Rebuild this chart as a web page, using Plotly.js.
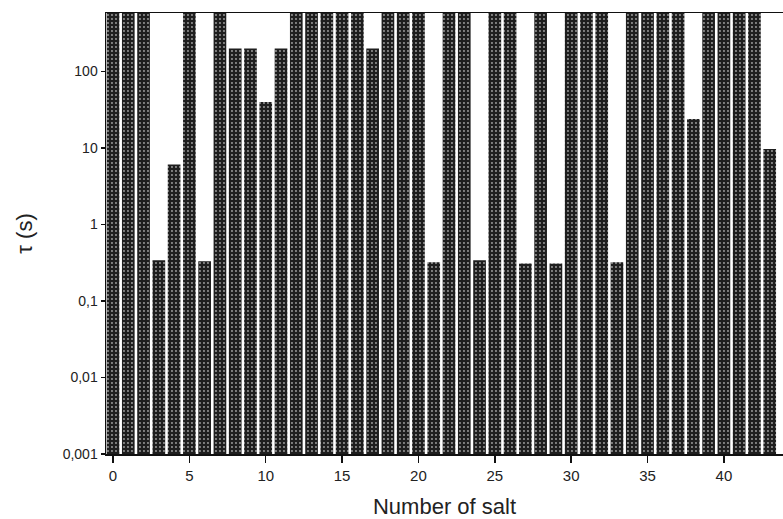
<!DOCTYPE html>
<html>
<head>
<meta charset="utf-8">
<script src="https://cdn.plot.ly/plotly-3.0.1.min.js"></script>
<style>
html,body{margin:0;padding:0;background:#fff;overflow:hidden;}
#chart{width:783px;height:519px;}
</style>
</head>
<body>
<div id="chart"></div>
<script>
// Salt number (x) and crystallization time tau in s (y); bars that reach the top are off-scale
var saltNumber = [0,1,2,3,4,5,6,7,8,9,10,11,12,13,14,15,16,17,18,19,20,21,22,23,24,25,26,27,28,29,30,31,32,33,34,35,36,37,38,39,40,41,42,43];
var tauValues = [1000,1000,1000,0.34,6.1,1000,0.33,1000,200,200,40,200,1000,1000,1000,1000,1000,200,1000,1000,1000,0.32,1000,1000,0.34,1000,1000,0.31,1000,0.31,1000,1000,1000,0.32,1000,1000,1000,1000,24,1000,1000,1000,1000,9.7];
var xTickVals = [0,5,10,15,20,25,30,35,40];
var xTickText = ["0","5","10","15","20","25","30","35","40"];
var yTickVals = [0.001,0.01,0.1,1,10,100];
var yTickText = ["0,001","0,01","0,1","1","10","100"];

var trace = {
  type: 'bar',
  x: saltNumber,
  y: tauValues,
  marker: {
    color: '#1e1e1e',
    line: {width: 0},
    pattern: {shape: '.', bgcolor: '#1e1e1e', fgcolor: '#a0a0a0', size: 4, solidity: 0.18, fillmode: 'replace'}
  },
  hoverinfo: 'x+y'
};

var layout = {
  width: 783,
  height: 519,
  margin: {l: 106, r: 0, t: 13, b: 65, pad: 0},
  paper_bgcolor: '#fff',
  plot_bgcolor: '#fff',
  bargap: 0.17,
  showlegend: false,
  font: {family: 'Liberation Sans, Arial, sans-serif', color: '#111'},
  xaxis: {
    range: [-0.46, 43.87],
    tickvals: xTickVals,
    ticktext: xTickText,
    ticks: 'outside',
    ticklen: 7,
    tickwidth: 1.5,
    tickcolor: '#111',
    showline: true,
    linecolor: '#111',
    linewidth: 1.5,
    mirror: true,
    showgrid: false,
    zeroline: false,
    tickfont: {size: 15, color: '#222'},
    title: {text: 'Number of salt', font: {size: 22, color: '#222'}, standoff: 16}
  },
  yaxis: {
    type: 'log',
    range: [-3, 2.765],
    tickvals: yTickVals,
    ticktext: yTickText,
    ticks: 'outside',
    ticklen: 4,
    tickwidth: 1.5,
    tickcolor: '#111',
    showline: true,
    linecolor: '#111',
    linewidth: 1.5,
    mirror: true,
    showgrid: false,
    zeroline: false,
    tickfont: {size: 14, color: '#222'},
    title: {text: 'τ (s)', font: {size: 22, color: '#222'}, standoff: 24}
  }
};

Plotly.newPlot('chart', [trace], layout, {displayModeBar: false, staticPlot: true});
</script>
</body>
</html>
